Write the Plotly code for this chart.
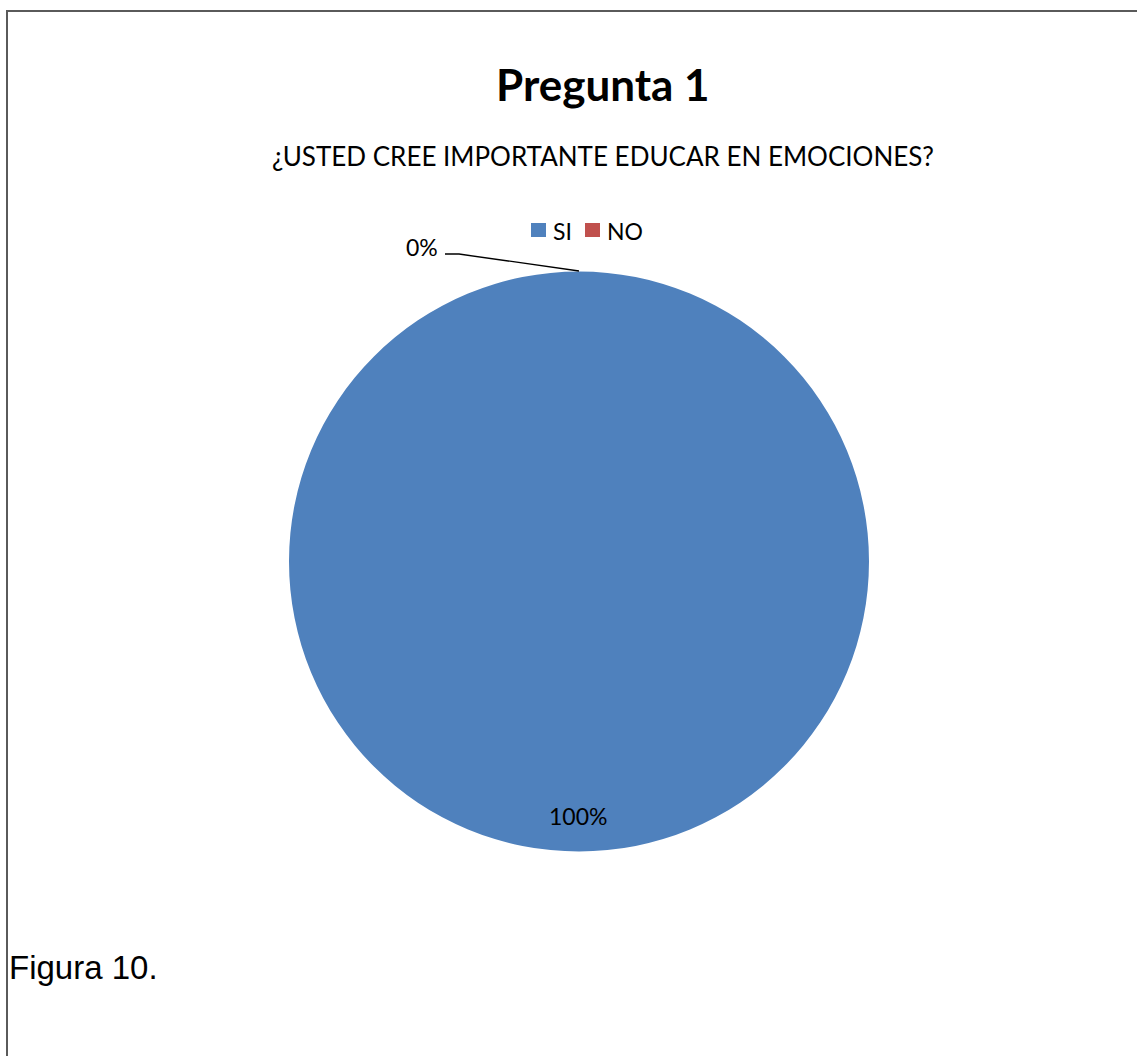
import plotly.graph_objects as go

labels = ["SI", "NO"]
values = [100, 0]
colors = ["#4F81BD", "#C0504D"]

title_text = "Pregunta 1"
subtitle_text = "¿USTED CREE IMPORTANTE EDUCAR EN EMOCIONES?"
caption_text = "Figura 10."

W, H = 1137, 1056
total = sum(values)
pcts = [f"{round(v / total * 100)}%" for v in values]


def px(x):
    return x / W


def py(y):
    return 1 - y / H


fig = go.Figure()
fig.add_trace(go.Pie(
    labels=labels, values=values, sort=False, direction="clockwise", rotation=0,
    marker=dict(colors=colors, line=dict(width=0)),
    textinfo="none", hoverinfo="label+percent", showlegend=False,
    domain=dict(x=[px(289), px(869)], y=[py(852), py(271)]),
))

font = "Lato, Carlito, 'Open Sans', sans-serif"
ann = []
shapes = []


def text(t, x, y, size, xanchor="center", fam=font):
    ann.append(dict(text=t, x=px(x), y=py(y), xref="paper", yref="paper",
                    xanchor=xanchor, yanchor="middle", showarrow=False,
                    font=dict(family=fam, size=size, color="#000")))


text(f"<b>{title_text}</b>", 603, 84, 44)
text(subtitle_text, 603, 156, 26)

# legend
for x0, lab, col in [(531, labels[0], colors[0]), (585, labels[1], colors[1])]:
    shapes.append(dict(type="rect", xref="paper", yref="paper", x0=px(x0), x1=px(x0 + 15),
                       y0=py(237), y1=py(223), fillcolor=col, line=dict(width=0)))
    text(lab, x0 + 20, 231, 23, xanchor="left")

# data labels
text(pcts[0], 578, 816, 23)
text(pcts[1], 440, 247, 23, xanchor="right")
shapes.append(dict(type="path", xref="paper", yref="paper",
                   path=f"M {px(445)} {py(254)} L {px(459)} {py(254)} L {px(579)} {py(271)}",
                   line=dict(color="#000", width=1.3)))

text(caption_text, 7, 967, 33, xanchor="left", fam="'Liberation Sans', Arial, sans-serif")

# border (top and left edges visible)
shapes.append(dict(type="line", xref="paper", yref="paper", x0=px(6), x1=1.0, y0=py(11), y1=py(11),
                   line=dict(color="#5a5a5a", width=2)))
shapes.append(dict(type="line", xref="paper", yref="paper", x0=px(7), x1=px(7), y0=0, y1=py(11),
                   line=dict(color="#5a5a5a", width=2)))

fig.update_layout(width=W, height=H, margin=dict(l=0, r=0, t=0, b=0),
                  paper_bgcolor="white", plot_bgcolor="white",
                  annotations=ann, shapes=shapes)
fig.write_html("out.html", config={"displayModeBar": False},
               post_script="document.body.style.margin='0';document.body.style.overflow='hidden';")
